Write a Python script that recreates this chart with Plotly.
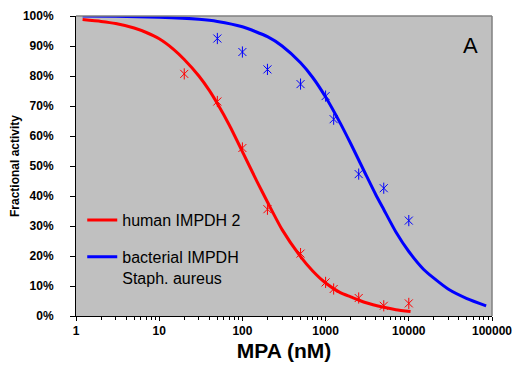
import plotly.graph_objects as go

# Measured data points (MPA concentration in nM, fractional activity in %)
human_x = [20, 50, 100, 200, 500, 1000, 1250, 2500, 5000, 10000]
human_y = [80.7, 71.5, 56.0, 35.6, 20.8, 11.2, 9.0, 6.0, 3.4, 4.2]

staph_x = [50, 100, 200, 500, 1000, 1250, 2500, 5000, 10000]
staph_y = [92.5, 88.0, 82.2, 77.3, 73.3, 65.6, 47.3, 42.6, 31.8]

# Fitted curves
human_fit_x = [1.2, 2, 3, 5, 7, 10, 15, 20, 30, 40, 50, 70, 100, 150, 200, 300,
               500, 700, 1000, 1500, 2000, 3000, 5000, 7000, 10500]
human_fit_y = [98.8, 98.2, 97.5, 96.0, 94.5, 92.4, 88.8, 85.5, 80.0, 75.2, 70.8,
               63.5, 54.8, 44.8, 38.0, 28.8, 19.8, 15.0, 11.0, 7.8, 6.4, 4.5,
               2.9, 2.1, 1.5]

staph_fit_x = [1.2, 3, 10, 30, 50, 100, 200, 300, 500, 700, 1000, 1500, 2000, 3000,
               4000, 5000, 7000, 10000, 15000, 20000, 30000, 50000, 85000]
staph_fit_y = [100.0, 99.9, 99.6, 98.9, 98.2, 96.4, 93.1, 90.0, 84.4, 79.5, 73.0,
               64.3, 57.5, 47.5, 40.5, 35.5, 28.0, 21.5, 15.6, 12.6, 8.9, 5.8, 3.4]

x_tick_vals = [1, 10, 100, 1000, 10000, 100000]
x_tick_text = ["1", "10", "100", "1000", "10000", "100000"]
y_tick_vals = [0, 10, 20, 30, 40, 50, 60, 70, 80, 90, 100]
y_tick_text = ["0%", "10%", "20%", "30%", "40%", "50%", "60%", "70%", "80%", "90%", "100%"]

names = ["human IMPDH 2", "bacterial IMPDH<br>Staph. aureus"]
RED = "#FF0000"
BLUE = "#0000FF"
FONT = "Arial, 'Liberation Sans', sans-serif"

minor_vals = [m * d for d in [1, 10, 100, 1000, 10000] for m in range(2, 10)]

fig = go.Figure()

fig.add_trace(go.Scatter(x=human_fit_x, y=human_fit_y, mode="lines", name=names[0],
                         line=dict(color=RED, width=3, shape="spline", smoothing=0.6),
                         legendgroup="a"))
fig.add_trace(go.Scatter(x=staph_fit_x, y=staph_fit_y, mode="lines", name=names[1],
                         line=dict(color=BLUE, width=3, shape="spline", smoothing=0.6),
                         legendgroup="b"))

for xs, ys, col in [(human_x, human_y, RED), (staph_x, staph_y, BLUE)]:
    for sym in ["x-thin-open", "line-ns-open"]:
        fig.add_trace(go.Scatter(x=xs, y=ys, mode="markers", showlegend=False,
                                 marker=dict(symbol=sym, size=8, color=col,
                                             line=dict(color=col, width=1))))

fig.add_shape(type="line", xref="paper", yref="paper", x0=0, x1=1, y0=1, y1=1,
              line=dict(color="#808080", width=1.5))
fig.add_shape(type="line", xref="paper", yref="paper", x0=1, x1=1, y0=0, y1=1,
              line=dict(color="#808080", width=1.5))

fig.add_annotation(text="A", xref="paper", yref="paper", x=(470 - 76) / 416,
                   y=(316 - 46) / 300, xanchor="center", yanchor="middle",
                   showarrow=False, font=dict(family=FONT, size=22, color="black"))

# page body has an 8px margin, so the figure is shrunk and shifted accordingly
fig.update_layout(
    width=515, height=370,
    margin=dict(l=68, r=31, t=8, b=62, autoexpand=False),
    paper_bgcolor="white",
    plot_bgcolor="#C0C0C0",
    font=dict(family=FONT, color="black"),
    showlegend=True,
    legend=dict(x=0.015, y=(316 - 203) / 300, xanchor="left", yanchor="top",
                bgcolor="rgba(0,0,0,0)", font=dict(family=FONT, size=16),
                traceorder="grouped", tracegroupgap=13, valign="top",
                itemwidth=30),
    xaxis=dict(type="log", range=[0, 5], showgrid=False, zeroline=False,
               showline=True, linecolor="black", linewidth=1,
               ticks="outside", ticklen=4, tickcolor="black",
               tickvals=x_tick_vals, ticktext=x_tick_text,
               tickfont=dict(family=FONT, size=12, weight="bold"),
               minor=dict(tickvals=minor_vals, ticks="outside", ticklen=3,
                          tickcolor="black", showgrid=False),
               title=dict(text="MPA (nM)", standoff=5,
                          font=dict(family=FONT, size=21, weight="bold"))),
    yaxis=dict(range=[0, 100], showgrid=False, zeroline=False,
               showline=True, linecolor="black", linewidth=1,
               ticks="outside", ticklen=5, tickcolor="black",
               tickvals=y_tick_vals, ticktext=y_tick_text, ticklabelstandoff=14,
               tickfont=dict(family=FONT, size=12, weight="bold"),
               title=dict(text="Fractional activity", standoff=8,
                          font=dict(family=FONT, size=12, weight="bold"))),
)

fig.write_html("out.html")
